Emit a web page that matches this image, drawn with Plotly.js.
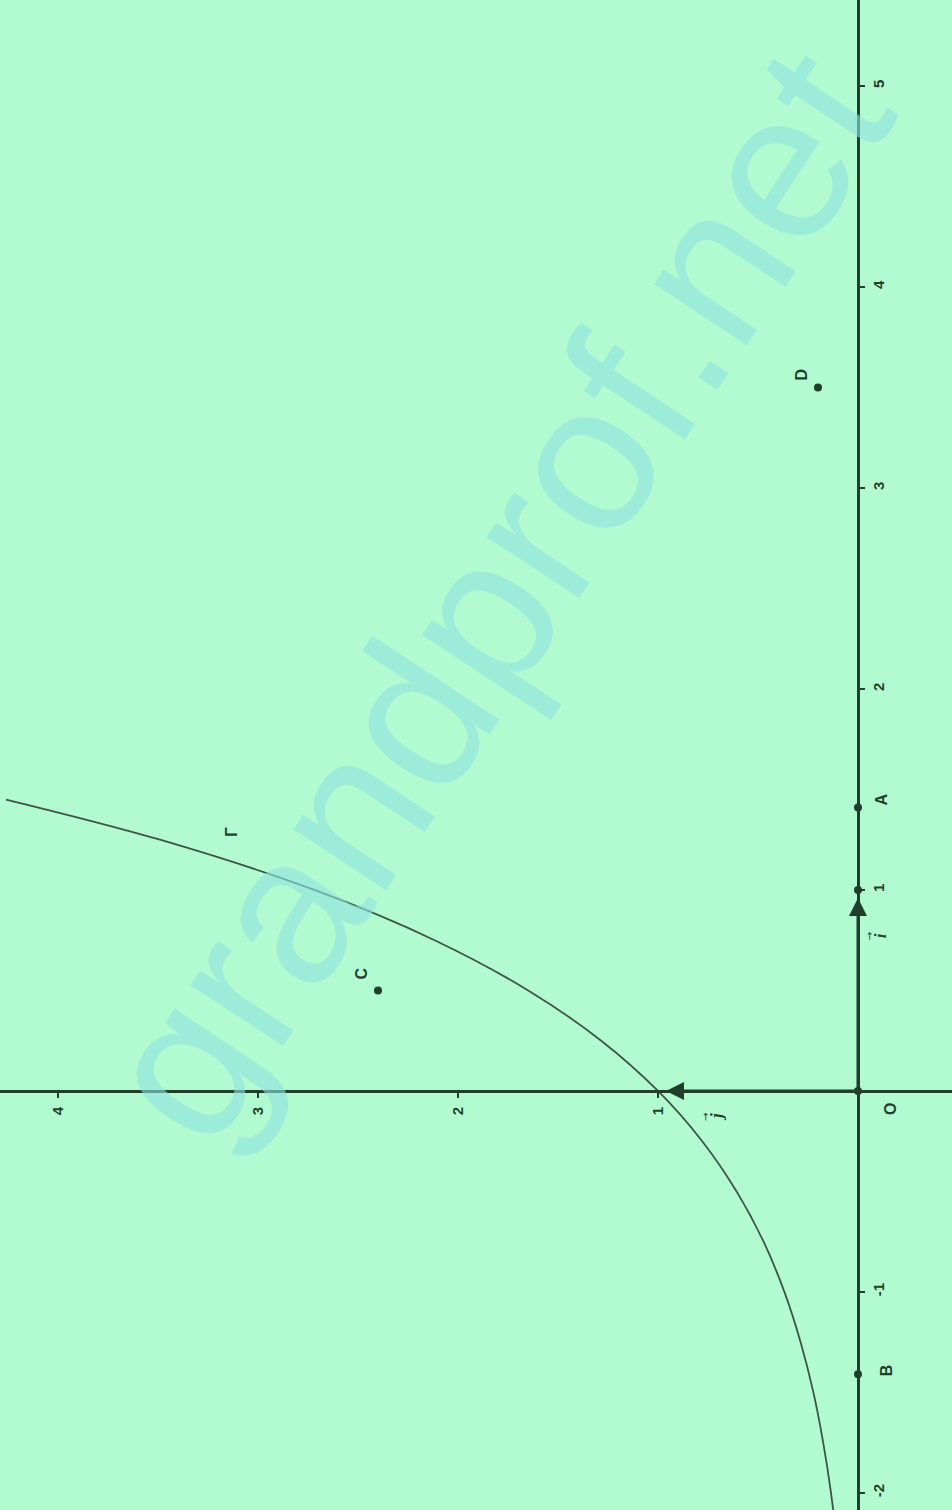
<!DOCTYPE html>
<html>
<head>
<meta charset="utf-8">
<script src="https://cdn.plot.ly/plotly-3.0.1.min.js"></script>
<style>
html,body{margin:0;padding:0;background:#b2fbd0;}
#chart{width:952px;height:1510px;}
</style>
</head>
<body>
<div id="chart"></div>
<script>
// Curve Γ: abscissa x and ordinate y
const curveX = [-2.25, -2, -1.75, -1.5, -1.25, -1, -0.75, -0.5, -0.25, 0, 0.25, 0.5, 0.75, 1, 1.25, 1.45];
const curveY = [0.105, 0.135, 0.174, 0.223, 0.287, 0.368, 0.472, 0.607, 0.779, 1, 1.284, 1.649, 2.117, 2.718, 3.49, 4.26];

// Named points
const pointNames = ['O', 'A', 'B', 'C', 'D', ''];
const pointX = [0, 1.41, -1.41, 0.5, 3.5, 1];
const pointY = [0, 0, 0, 2.4, 0.2, 0];

// Axis ticks
const xTickVals = [-2, -1, 1, 2, 3, 4, 5];
const xTickText = ['-2', '-1', '1', '2', '3', '4', '5'];
const yTickVals = [1, 2, 3, 4];
const yTickText = ['1', '2', '3', '4'];

const ink = '#1f3f2c';
const bg = '#b2fbd0';
const labelFont = {family: 'Liberation Sans, Arial', size: 16, color: ink, weight: 'bold'};

// The figure is shown rotated a quarter turn: math x runs upward, math y runs leftward.
const traces = [
  {
    x: curveY, y: curveX, type: 'scatter', mode: 'lines',
    line: {color: '#3d5446', width: 1.8, shape: 'spline', smoothing: 1},
    hoverinfo: 'skip', showlegend: false
  },
  {
    x: pointY, y: pointX, type: 'scatter', mode: 'markers',
    marker: {color: ink, size: 8},
    hoverinfo: 'skip', showlegend: false
  }
];

const labelOffsets = {
  'A': [24, -8],
  'B': [28, -4],
  'C': [-17, -17],
  'D': [-17, -13]
};

const annotations = [];
// Watermark (first so that the other labels sit above it)
annotations.push({
  x: 494 / 952, y: (1510 - 595) / 1510, xref: 'paper', yref: 'paper', text: 'grandprof.net',
  showarrow: false, textangle: -56.5,
  font: {family: 'Liberation Sans, Arial', size: 210, color: 'rgba(143,226,223,0.6)'}
});

pointNames.forEach((n, i) => {
  if (!labelOffsets[n]) return;
  annotations.push({
    x: pointY[i], y: pointX[i], xref: 'x', yref: 'y',
    text: n, showarrow: false, textangle: -90,
    xshift: labelOffsets[n][0], yshift: -labelOffsets[n][1],
    font: labelFont
  });
});

// Origin label
annotations.push({
  x: 0, y: 0, xref: 'x', yref: 'y', text: 'O', showarrow: false, textangle: -90,
  xshift: 33, yshift: -18, font: labelFont
});
// Curve name
annotations.push({
  x: 3.13, y: 1.29, xref: 'x', yref: 'y', text: 'Γ', showarrow: false, textangle: -90,
  font: labelFont
});
// Unit vectors
annotations.push({
  x: 0, y: 1, xref: 'x', yref: 'y', ax: 0, ay: 0, axref: 'x', ayref: 'y',
  text: '', showarrow: true, arrowhead: 2, arrowsize: 1.2, arrowwidth: 3,
  arrowcolor: ink, standoff: 8
});
annotations.push({
  x: 1, y: 0, xref: 'x', yref: 'y', ax: 0, ay: 0, axref: 'x', ayref: 'y',
  text: '', showarrow: true, arrowhead: 2, arrowsize: 1.2, arrowwidth: 3,
  arrowcolor: ink, standoff: 8
});
// vector names: letter plus a small arrow above it (shown rotated)
annotations.push({
  x: -0.09, y: 0.77, xref: 'x', yref: 'y', text: 'i', showarrow: false, textangle: -90,
  xshift: 4, font: {family: 'Liberation Serif', size: 17, color: ink, style: 'italic', weight: 'bold'}
});
annotations.push({
  x: -0.09, y: 0.77, xref: 'x', yref: 'y', text: '\u2192', showarrow: false, textangle: -90,
  xshift: -7, font: {family: 'DejaVu Sans', size: 10, color: ink}
});
annotations.push({
  x: 0.73, y: -0.13, xref: 'x', yref: 'y', text: 'j', showarrow: false, textangle: -90,
  xshift: 4, font: {family: 'Liberation Serif', size: 17, color: ink, style: 'italic', weight: 'bold'}
});
annotations.push({
  x: 0.73, y: -0.13, xref: 'x', yref: 'y', text: '\u2192', showarrow: false, textangle: -90,
  xshift: -7, font: {family: 'DejaVu Sans', size: 10, color: ink}
});

const axisFont = {family: 'Liberation Sans, Arial', size: 15, color: ink, weight: 'bold'};

const layout = {
  width: 952, height: 1510,
  margin: {l: 0, r: 0, t: 0, b: 0, pad: 0},
  paper_bgcolor: bg, plot_bgcolor: bg,
  showlegend: false,
  xaxis: {
    range: [4.29, -0.47], anchor: 'free', position: 0.2775,
    showgrid: false, zeroline: false, showline: true, linecolor: ink, linewidth: 3,
    tickmode: 'array', tickvals: yTickVals, ticktext: yTickText,
    ticks: 'outside', ticklen: 5, tickwidth: 2, tickcolor: ink,
    tickangle: -90, ticklabelstandoff: 3,
    tickfont: axisFont, fixedrange: true
  },
  yaxis: {
    range: [-2.085, 5.428], anchor: 'free', position: 0.9013, side: 'right',
    showgrid: false, zeroline: false, showline: true, linecolor: ink, linewidth: 3,
    tickmode: 'array', tickvals: xTickVals, ticktext: xTickText,
    ticks: 'outside', ticklen: 5, tickwidth: 2, tickcolor: ink,
    tickangle: -90, ticklabelstandoff: 1,
    tickfont: axisFont, fixedrange: true
  },
  annotations: annotations
};

Plotly.newPlot('chart', traces, layout, {displayModeBar: false, staticPlot: true});
</script>
</body>
</html>
